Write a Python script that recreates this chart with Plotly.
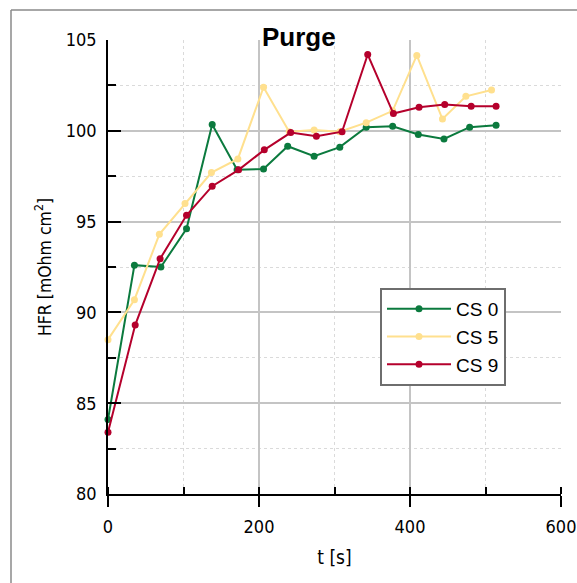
import plotly.graph_objects as go

# Data
t_cs0 = [0, 35, 70, 104, 138, 171, 206, 238, 273, 307, 342, 377, 411, 445, 479, 514]
hfr_cs0 = [84.1, 92.6, 92.5, 94.6, 100.35, 97.85, 97.9, 99.15, 98.6, 99.1, 100.2, 100.25, 99.8, 99.55, 100.2, 100.3]

t_cs5 = [0, 35, 68, 102, 137, 172, 206, 240, 273, 307, 342, 377, 409, 443, 474, 508]
hfr_cs5 = [88.5, 90.7, 94.3, 96.0, 97.7, 98.45, 102.4, 99.95, 100.05, 99.95, 100.45, 101.1, 104.15, 100.65, 101.9, 102.25]

t_cs9 = [0, 36, 69, 104, 138, 173, 207, 242, 276, 310, 344, 378, 412, 446, 481, 514]
hfr_cs9 = [83.4, 89.3, 92.95, 95.35, 96.95, 97.85, 98.95, 99.9, 99.7, 99.95, 104.2, 100.95, 101.3, 101.45, 101.35, 101.35]

series = [
    ("CS 0", t_cs0, hfr_cs0, "#0b7a3e"),
    ("CS 5", t_cs5, hfr_cs5, "#ffe08e"),
    ("CS 9", t_cs9, hfr_cs9, "#b5002c"),
]

x_ticks = [0, 200, 400, 600]
y_ticks = [80, 85, 90, 95, 100, 105]

fig = go.Figure()
for name, t, v, c in series:
    fig.add_trace(go.Scatter(
        x=t, y=v, name=name, mode="lines+markers",
        line=dict(color=c, width=2),
        marker=dict(color=c, size=7),
        cliponaxis=False,
    ))

font_family = "DejaVu Sans Condensed"

fig.update_layout(
    width=577, height=583,
    margin=dict(l=108, r=16, t=40, b=89),
    paper_bgcolor="white", plot_bgcolor="white",
    font=dict(family=font_family, size=18, color="black"),
    showlegend=True,
    legend=dict(
        x=(380 - 108) / 453, y=(494 - 288) / 454,
        xanchor="left", yanchor="top",
        bgcolor="white", bordercolor="#6e6e6e", borderwidth=2,
        font=dict(size=19, family="Liberation Sans"),
        itemwidth=64, tracegroupgap=0,
    ),
    xaxis=dict(
        range=[0, 600], tickvals=x_ticks, automargin=False,
        showline=True, linecolor="black", linewidth=1.5,
        ticks="outside", ticklen=11, tickcolor="black", tickwidth=1.5,
        ticklabelstandoff=5,
        showgrid=True, gridcolor="#c4c4c4", gridwidth=1.5,
        zeroline=False,
        minor=dict(ticks="inside", ticklen=7, tickcolor="black", dtick=100,
                   showgrid=True, gridcolor="#dadada", griddash="dot", gridwidth=1),
        title=dict(text="t [s]", font=dict(size=19), standoff=14),
    ),
    yaxis=dict(
        range=[80, 105], tickvals=y_ticks, automargin=False,
        showline=True, linecolor="black", linewidth=1.5,
        ticks="inside", ticklen=13, tickcolor="black", tickwidth=1.5,
        ticklabelstandoff=6,
        showgrid=True, gridcolor="#c4c4c4", gridwidth=1.5,
        zeroline=False,
        minor=dict(ticks="inside", ticklen=8, tickcolor="black", dtick=2.5,
                   showgrid=True, gridcolor="#dadada", griddash="dot", gridwidth=1),
        title=dict(text="HFR [mOhm cm<sup>2</sup>]", font=dict(size=17.5), standoff=10),
    ),
)

fig.add_annotation(
    text="<b>Purge</b>", xref="paper", yref="paper",
    x=(299 - 108) / 453, y=(494 - 37) / 454,
    xanchor="center", yanchor="middle", showarrow=False,
    font=dict(family="Liberation Sans", size=26, color="black"),
)

# outer frame (top and left edges)
fx0 = (11 - 108) / 453
fy_top = (494 - 10) / 454
fy_bot = (494 - 590) / 454
fx1 = (590 - 108) / 453
fig.add_shape(type="line", xref="paper", yref="paper", x0=fx0, x1=fx1, y0=fy_top, y1=fy_top,
              line=dict(color="#8a8a8a", width=1.5))
fig.add_shape(type="line", xref="paper", yref="paper", x0=fx0, x1=fx0, y0=fy_top, y1=fy_bot,
              line=dict(color="#8a8a8a", width=1.5))

fig.write_html(
    "out.html",
    config={"displayModeBar": False},
    post_script="document.body.style.margin='0px';document.body.style.overflow='hidden';",
)
